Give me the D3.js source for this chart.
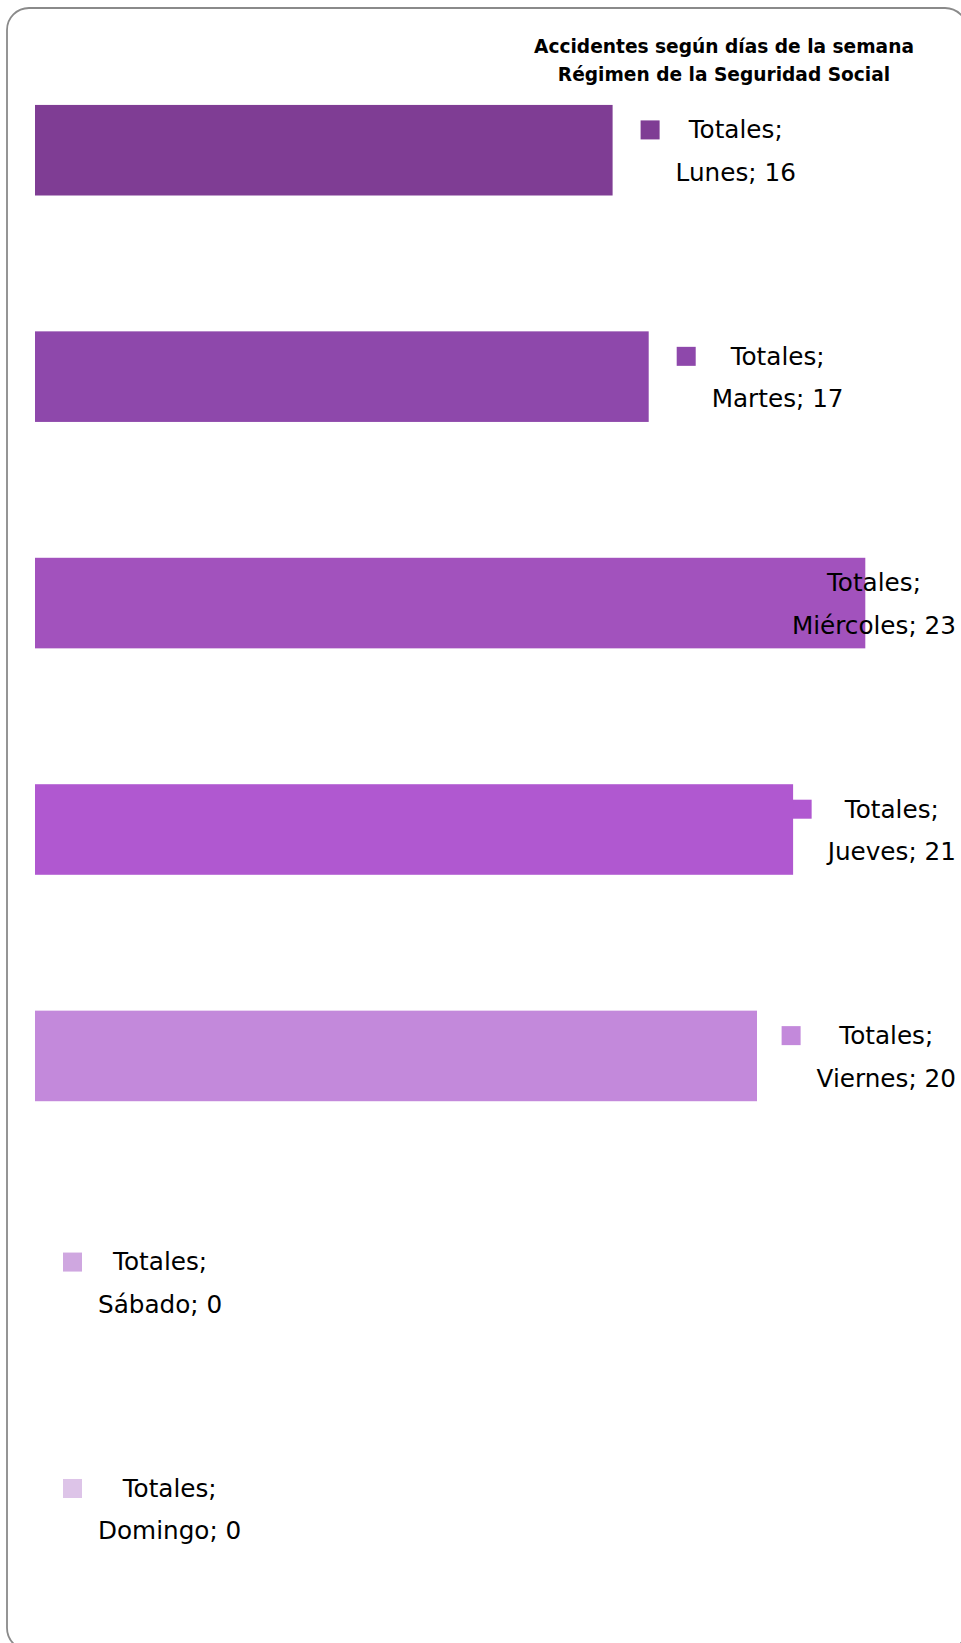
<!DOCTYPE html>
<html>
<head>
<meta charset="utf-8">
<script src="https://cdn.jsdelivr.net/npm/d3@7"></script>
<style>
  body { margin: 0; background: #fff; }
  svg { display: block; }
</style>
</head>
<body>
<svg width="961" height="1643"></svg>
<script>

// data
const days = ["Lunes", "Martes", "Miércoles", "Jueves", "Viernes", "Sábado", "Domingo"];
const totals = [16, 17, 23, 21, 20, 0, 0];
const seriesName = "Totales";
const barColors = ["#7f3d94", "#8e48ab", "#a252bd", "#b058d0", "#c389db", "#cfa7e0", "#ddc4e8"];
const titleLines = ["Accidentes según días de la semana", "Régimen de la Seguridad Social"];

let svg = d3.select("svg"),
    width = 961,
    height = 1643;

// outer frame (runs just past the right and bottom edges like the original)
svg.append("rect")
    .attr("x", 7)
    .attr("y", 8)
    .attr("width", 960)
    .attr("height", 1642)
    .attr("rx", 22)
    .attr("fill", "#fff")
    .attr("stroke", "#8a8a8a")
    .attr("stroke-width", 1.8);

let y = d3.scaleBand()
    .domain(days)
    .range([37, 1622])
    .paddingInner(0.6)
    .paddingOuter(0.3);

let x = d3.scaleLinear()
    .domain([0, 25])
    .range([35, 937.5]);

let data = days.map(function(d, i) { return {day: d, value: totals[i], color: barColors[i]}; });

// legend keys go first so the bars cover them
let keys = svg.append("g");

// bars
svg.append("g").selectAll("rect")
    .data(data)
    .enter()
    .append("rect")
    .attr("x", x(0))
    .attr("y", function(d) { return y(d.day); })
    .attr("width", function(d) { return x(d.value) - x(0); })
    .attr("height", y.bandwidth())
    .attr("fill", function(d) { return d.color; });

// data labels
let labels = svg.append("g")
    .style("font-family", "'DejaVu Sans', sans-serif")
    .style("font-size", "24.7px")
    .attr("fill", "#000");

let rightLimit = 956;

data.forEach(function(d) {
    let cy = y(d.day) + y.bandwidth() / 2;

    let t1 = labels.append("text")
        .attr("y", cy - 12)
        .attr("text-anchor", "middle")
        .text(seriesName + ";");
    let t2 = labels.append("text")
        .attr("y", cy + 30.6)
        .attr("text-anchor", "middle")
        .text(d.day + "; " + d.value);

    let w = Math.max(t1.node().getComputedTextLength(), t2.node().getComputedTextLength());
    let left = x(d.value) + 28 + 35;
    if (left + w > rightLimit) left = rightLimit - w;

    t1.attr("x", left + w / 2);
    t2.attr("x", left + w / 2);

    keys.append("rect")
        .attr("x", left - 35)
        .attr("y", cy - 29.8)
        .attr("width", 19)
        .attr("height", 19)
        .attr("fill", d.color);
});

// title
let title = svg.append("text")
    .attr("text-anchor", "middle")
    .style("font-family", "'DejaVu Sans', sans-serif")
    .style("font-weight", "bold")
    .style("font-size", "18.6px");

title.append("tspan")
    .attr("x", 724)
    .attr("y", 53.3)
    .text(titleLines[0]);

title.append("tspan")
    .attr("x", 724)
    .attr("y", 81)
    .text(titleLines[1]);

</script>
</body>
</html>
